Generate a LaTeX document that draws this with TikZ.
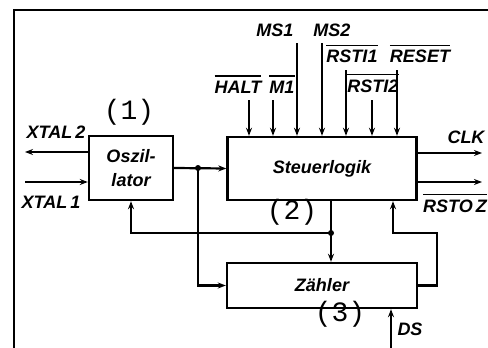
\documentclass[tikz,border=0pt]{standalone}
\usepackage{fontspec}
\setsansfont{Liberation Sans}
\newfontfamily\nrfont{Liberation Mono}
\usetikzlibrary{arrows.meta}
\newcommand{\nq}[1]{\setbox0=\hbox{#1}\rlap{\rule[\dimexpr\ht0+4pt\relax]{\wd0}{1.8pt}}\box0}

\begin{document}
\begin{tikzpicture}[x=1pt,y=-1pt,line width=2.2pt,>={Stealth[length=8pt,width=6pt]},
  blk/.style={draw,line width=2.4pt,inner sep=0pt,align=center,font=\sffamily\bfseries\itshape\fontsize{18}{24}\selectfont},
  sig/.style={inner sep=0pt,anchor=base,font=\sffamily\bfseries\itshape\fontsize{18}{18}\selectfont},
  nr/.style={inner sep=0pt,font=\nrfont\fontsize{28}{28}\selectfont}]
\useasboundingbox (0,0) rectangle (488,348);
\draw (14,348) -- (14,10) -- (488,10);
% Bloecke
\node[blk,minimum width=84,minimum height=64] (osz) at (131,168) {Oszil-\\lator};
\node[blk,minimum width=189,minimum height=63] (steuer) at (322,168.5) {Steuerlogik};
\node[blk,minimum width=190,minimum height=45] (zaehler) at (322,285.5) {Zähler};
\node[nr] (n1) at (129,112) {(1)};
\node[nr] (n2) at (292,212) {(2)};
\node[nr] (n3) at (340,314) {(3)};
% Verbindungen
\coordinate (j1) at (198,168);
\coordinate (j2) at (331,233);
\coordinate (r1) at (437,233);
\coordinate (r2) at (393,233);
\draw[->] (osz.east) -- (steuer.west);
\draw[->] (j1) |- (zaehler.west);
\draw[->] (steuer.south -| j2) -- (zaehler.north -| j2);
\draw[->] (j2) -| (osz.south);
\draw[->] (zaehler.east) -| (r1) -- (r2) -- (r2 |- steuer.south);
\fill (j1) circle (3); \fill (j2) circle (3);
% Quarz
\coordinate (xt2) at (25,152); \coordinate (xt1) at (25,182);
\draw[->] (xt2 -| osz.west) -- (xt2);
\draw[->] (xt1) -- (xt1 -| osz.west);
\node[sig] (lxt2) at (56,138) {XTAL\,2};
\node[sig] (lxt1) at (51,208) {XTAL\,1};
% Ausgaenge
\coordinate (clk) at (482,153); \coordinate (rst) at (482,182);
\draw[->] (clk -| steuer.east) -- (clk);
\draw[->] (rst -| steuer.east) -- (rst);
\node[sig] (lclk) at (466,143) {CLK};
\node[sig] (lrst) at (455,212) {\nq{RSTO\,Z}};
\coordinate (ds) at (391,348);
\draw[->] (ds) -- (ds |- zaehler.south);
\node[sig] (lds) at (410,335) {DS};
% Eingaenge Steuerlogik
\foreach \x/\y [count=\i] in {249/100,273/100,297/43,322/43,346/70,372/100,397/70}{
  \coordinate (in\i) at (\x,\y);
  \draw[->] (in\i) -- (in\i |- steuer.north);
}
\node[sig] (lhalt) at (238,93) {\nq{HALT}};
\node[sig] (lm1) at (282,93) {\nq{M1}};
\node[sig] (lms1) at (275,37) {MS1};
\node[sig] (lms2) at (332,37) {MS2};
\node[sig] (lrsti1) at (352,63) {\nq{RSTI1}};
\node[sig] (lrsti2) at (373,92) {\nq{RSTI2}};
\node[sig] (lreset) at (420,63) {\nq{RESET}};
\end{tikzpicture}
\end{document}
